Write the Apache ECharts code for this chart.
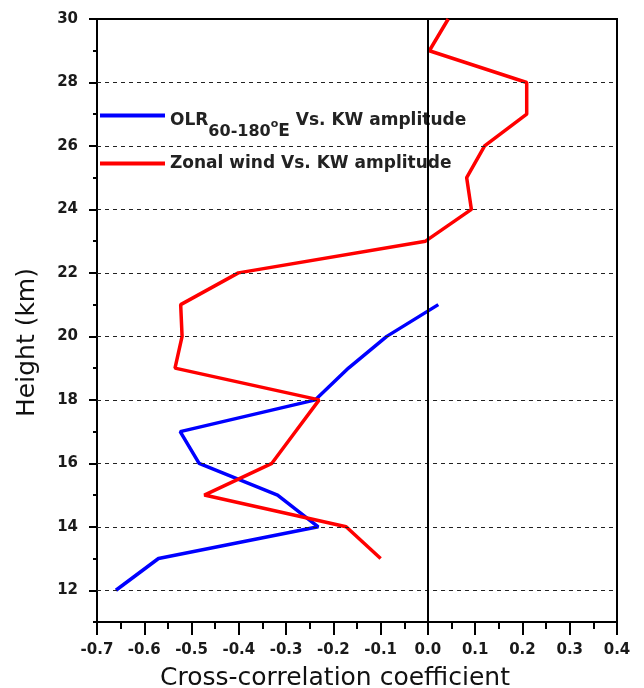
<!DOCTYPE html>
<html>
<head>
<meta charset="utf-8">
<script src="https://cdn.jsdelivr.net/npm/echarts@6/dist/echarts.min.js"></script>
<style>html,body{margin:0;padding:0;background:#fff}#chart{width:644px;height:688px}</style>
</head>
<body>
<div id="chart"></div>
<script>
// ---- data ----
const olrHeights = [12, 13, 14, 15, 16, 17, 18, 19, 20, 21];
const olrCorr = [-0.66, -0.57, -0.232, -0.318, -0.484, -0.524, -0.238, -0.168, -0.087, 0.022];
const windHeights = [13, 14, 15, 16, 17, 18, 19, 20, 21, 22, 23, 24, 25, 26, 27, 28, 29, 30];
const windCorr = [-0.10, -0.173, -0.473, -0.33, -0.28, -0.23, -0.535, -0.52, -0.523, -0.401, -0.005, 0.092, 0.082, 0.12, 0.209, 0.209, 0.003, 0.043];
const yMajorTicks = [12, 14, 16, 18, 20, 22, 24, 26, 28, 30];
const gridHeights = [12, 14, 16, 18, 20, 22, 24, 26, 28];
const seriesNames = ['OLR', 'Zonal wind'];

const FONT = 'DejaVu Sans';
const chart = echarts.init(document.getElementById('chart'));

const pairs = (xs, ys) => ys.map((y, i) => [xs[i], y]);

const legendBase = {
  orient: 'vertical', left: 100, padding: 0, itemWidth: 65, itemHeight: 4, icon: 'rect', z: 1,
  selectedMode: false
};

const yCommon = { type: 'value', min: 11, max: 30, interval: 1, gridIndex: 0, position: 'left' };

chart.setOption({
  animation: false,
  backgroundColor: '#fff',
  grid: { left: 97, right: 27, top: 19, bottom: 66, show: true, borderColor: '#000', borderWidth: 2,
    containLabel: false, outerBoundsMode: 'none' },
  xAxis: {
    type: 'value', min: -0.7, max: 0.4, interval: 0.1,
    name: 'Cross-correlation coefficient', nameLocation: 'middle', nameGap: 44,
    nameTextStyle: { fontFamily: FONT, fontSize: 25, color: '#111', padding: [0, 44, 0, 0] },
    axisLine: { show: true, onZero: false, lineStyle: { color: '#000', width: 2 } },
    axisTick: { show: true, inside: false, length: 13, lineStyle: { color: '#000', width: 2 } },
    minorTick: { show: true, splitNumber: 2, length: 7, lineStyle: { color: '#000', width: 2 } },
    axisLabel: { margin: 21, fontFamily: FONT, fontSize: 15, fontWeight: 'bold', color: '#1a1a1a',
      formatter: v => v.toFixed(1) },
    splitLine: { show: false }
  },
  yAxis: [
    Object.assign({}, yCommon, {
      name: 'Height (km)', nameLocation: 'middle', nameGap: 57,
      nameTextStyle: { fontFamily: FONT, fontSize: 25, color: '#111', padding: [0, 44, 0, 0] },
      axisLine: { show: true, onZero: false, lineStyle: { color: '#000', width: 2 } },
      axisTick: { show: true, inside: false, length: 8, customValues: yMajorTicks, lineStyle: { color: '#000', width: 2 } },
      axisLabel: { margin: 19, fontFamily: FONT, fontSize: 15, fontWeight: 'bold', color: '#1a1a1a', customValues: yMajorTicks },
      splitLine: { show: false }
    }),
    Object.assign({}, yCommon, {
      axisLine: { show: false, onZero: false },
      axisTick: { show: true, inside: false, length: 4, lineStyle: { color: '#000', width: 2 } },
      axisLabel: { show: false },
      splitLine: { show: false }
    })
  ],
  legend: [
    Object.assign({}, legendBase, {
      data: [seriesNames[0]], top: 112,
      formatter: () => '{m|OLR}{sub|60-180}{sup|o}{e|E}{m| Vs. KW amplitude}',
      textStyle: {
        rich: {
          m: { fontFamily: FONT, fontSize: 17, fontWeight: 'bold', color: '#222', padding: [10, 0, 0, 0] },
          sub: { fontFamily: FONT, fontSize: 16, fontWeight: 'bold', color: '#222', padding: [33, 0, 0, 0] },
          sup: { fontFamily: FONT, fontSize: 11, fontWeight: 'bold', color: '#222', padding: [18, 0, 0, 0] },
          e: { fontFamily: FONT, fontSize: 17, fontWeight: 'bold', color: '#222', padding: [32, 0, 0, 0] }
        }
      }
    }),
    Object.assign({}, legendBase, {
      data: [seriesNames[1]], top: 155,
      formatter: () => 'Zonal wind Vs. KW amplitude',
      textStyle: { fontFamily: FONT, fontSize: 17, fontWeight: 'bold', color: '#222' }
    })
  ],
  series: [
    {
      name: 'guides', type: 'line', z: 2, data: [], silent: true,
      markLine: {
        silent: true, symbol: 'none', label: { show: false }, animation: false,
        data: gridHeights.map(h => ({ yAxis: h, lineStyle: { color: '#222', width: 1, type: [4, 4] } }))
          .concat([{ xAxis: 0, lineStyle: { color: '#000', width: 2, type: 'solid' } }])
      }
    },
    {
      name: seriesNames[0], type: 'line', z: 3, data: pairs(olrCorr, olrHeights),
      showSymbol: false, symbol: 'none',
      lineStyle: { color: '#0000ff', width: 3.5 }, itemStyle: { color: '#0000ff' }
    },
    {
      name: seriesNames[1], type: 'line', z: 3, data: pairs(windCorr, windHeights),
      showSymbol: false, symbol: 'none',
      lineStyle: { color: '#ff0000', width: 3.5 }, itemStyle: { color: '#ff0000' }
    }
  ]
});
</script>
</body>
</html>
